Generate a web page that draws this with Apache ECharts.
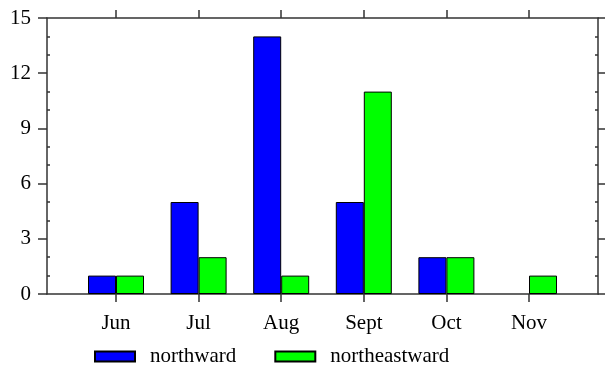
<!DOCTYPE html>
<html>
<head>
<meta charset="utf-8">
<script src="https://cdn.jsdelivr.net/npm/echarts@6/dist/echarts.min.js"></script>
<style>
  html, body { margin: 0; padding: 0; background: #fff; }
  #chart { width: 605px; height: 365px; }
</style>
</head>
<body>
<div id="chart"></div>
<script>
// Monthly counts by direction
const months = ['Jun', 'Jul', 'Aug', 'Sept', 'Oct', 'Nov'];
const northward = [1, 5, 14, 5, 2, 0];
const northeastward = [1, 2, 1, 11, 2, 1];
const yTicks = [0, 3, 6, 9, 12, 15];
const yMinorTicks = [1, 2, 4, 5, 7, 8, 10, 11, 13, 14];

const FONT = '"Liberation Serif", "Times New Roman", serif';
const AXIS_COLOR = '#333';
const monthIdx = months.map((_, i) => i);

// Frame spans a bit more than the category bands on each side
const PAD = 0.835;

const chart = echarts.init(document.getElementById('chart'), null, { renderer: 'canvas' });

const lineStyle = { color: AXIS_COLOR, width: 1.5 };

// Zero-height bars get no outline
const barData = vals => vals.map(v => (v === 0 ? { value: v, itemStyle: { borderWidth: 0 } } : v));

chart.setOption({
  animation: false,
  backgroundColor: '#fff',
  grid: [
    { left: 47, right: 7, top: 18, bottom: 71 },          // frame
    { left: 74.7, right: 34.7, top: 18, bottom: 71 }      // bars
  ],
  legend: {
    left: 94,
    top: 346,
    padding: 0,
    itemWidth: 40,
    itemHeight: 10,
    itemGap: 38,
    icon: 'rect',
    textStyle: {
      fontFamily: FONT,
      fontSize: 21,
      color: '#000',
      padding: [0, 0, 0, 10]
    },
    data: ['northward', 'northeastward']
  },
  xAxis: [
    {
      gridIndex: 0, type: 'value', position: 'bottom',
      min: -PAD, max: months.length - 1 + PAD,
      axisLine: { show: true, onZero: false, lineStyle },
      axisTick: { show: true, inside: false, length: 8, customValues: monthIdx, lineStyle },
      axisLabel: {
        show: true, customValues: monthIdx, margin: 19,
        formatter: v => months[Math.round(v)],
        fontFamily: FONT, fontSize: 21, color: '#000'
      },
      splitLine: { show: false }
    },
    {
      gridIndex: 0, type: 'value', position: 'top',
      min: -PAD, max: months.length - 1 + PAD,
      axisLine: { show: true, onZero: false, lineStyle },
      axisTick: { show: true, inside: false, length: 8, customValues: monthIdx, lineStyle },
      axisLabel: { show: false },
      splitLine: { show: false }
    },
    {
      gridIndex: 1, type: 'category', data: months,
      show: false
    }
  ],
  yAxis: [
    {
      gridIndex: 0, type: 'value', position: 'left', min: 0, max: 15,
      axisLine: { show: true, onZero: false, lineStyle },
      axisTick: { show: true, inside: false, length: 9, customValues: yTicks, lineStyle },
      axisLabel: {
        show: true, customValues: yTicks, margin: 16,
        fontFamily: FONT, fontSize: 21, color: '#000'
      },
      splitLine: { show: false }
    },
    {
      gridIndex: 0, type: 'value', position: 'left', min: 0, max: 15,
      axisLine: { show: false, onZero: false },
      axisTick: { show: true, inside: true, length: 3, customValues: yMinorTicks, lineStyle },
      axisLabel: { show: false },
      splitLine: { show: false }
    },
    {
      gridIndex: 0, type: 'value', position: 'right', min: 0, max: 15,
      axisLine: { show: true, onZero: false, lineStyle },
      axisTick: { show: true, inside: false, length: 7, customValues: yTicks, lineStyle },
      axisLabel: { show: false },
      splitLine: { show: false }
    },
    {
      gridIndex: 0, type: 'value', position: 'right', min: 0, max: 15,
      axisLine: { show: false, onZero: false },
      axisTick: { show: true, inside: true, length: 3, customValues: yMinorTicks, lineStyle },
      axisLabel: { show: false },
      splitLine: { show: false }
    },
    {
      gridIndex: 1, type: 'value', min: 0, max: 15, show: false
    }
  ],
  series: [
    {
      name: 'northward', type: 'bar',
      xAxisIndex: 2, yAxisIndex: 4,
      data: barData(northward),
      barWidth: 28, barGap: '0%',
      itemStyle: { color: '#0000ff', borderColor: '#000', borderWidth: 1 }
    },
    {
      name: 'northeastward', type: 'bar',
      xAxisIndex: 2, yAxisIndex: 4,
      data: barData(northeastward),
      barWidth: 28, barGap: '0%',
      itemStyle: { color: '#00ff00', borderColor: '#000', borderWidth: 1 }
    }
  ]
});
</script>
</body>
</html>
